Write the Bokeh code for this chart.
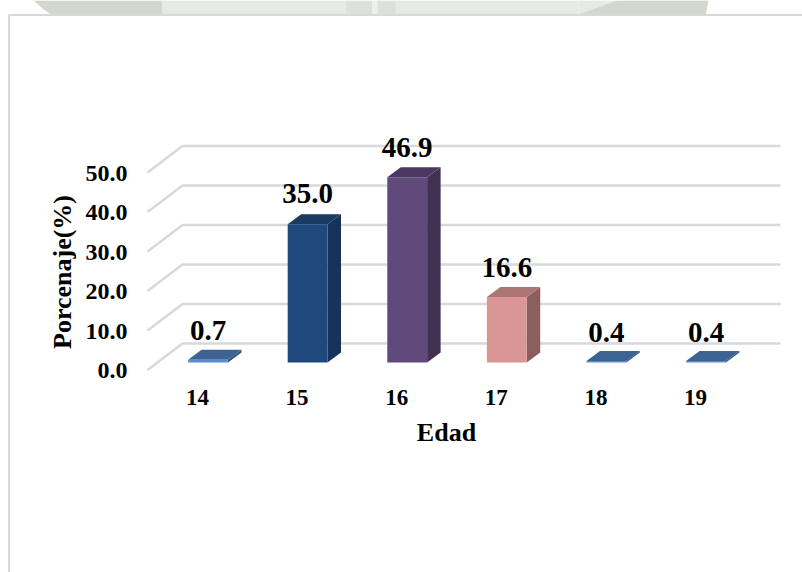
from bokeh.plotting import figure
from bokeh.models import LinearAxis, Range1d, FixedTicker
from bokeh.core.properties import value
from bokeh.embed import file_html
from bokeh.resources import INLINE

# data
ages = ["14", "15", "16", "17", "18", "19"]
percent = [0.7, 35.0, 46.9, 16.6, 0.4, 0.4]
y_ticks = [0, 10, 20, 30, 40, 50]

# styles
front = ["#5b8ccb", "#1f497d", "#604a7b", "#d99694", "#5b8ccb", "#5b8ccb"]
side = ["#2f5078", "#17335a", "#403152", "#8c5f5e", "#2f5078", "#2f5078"]
top = ["#3c6392", "#1a3a64", "#4a3862", "#ab7674", "#3c6392", "#3c6392"]
label_gap = [19, 21, 20, 19, 18.5, 18.5]

W, H = 802, 572
X0, DX = 207.5, 99.6     # page px of category 0, px per category
Y0, DY = 362.0, 3.95     # page px of value 0 at the front, px per unit
BW = 0.4
DEPTH_X, DEPTH_Y = 13.5 / DX, 10 / DY


def xd(px):
    return (px - X0) / DX


def yd(py):
    return (Y0 - py) / DY


p = figure(width=W, height=H, output_backend="svg", toolbar_location=None,
           x_axis_type=None, y_axis_type=None,
           x_range=Range1d(xd(0), xd(W)), y_range=Range1d(yd(H), yd(0)),
           min_border=0, min_border_left=0, min_border_right=0, min_border_top=0, min_border_bottom=0,
           outline_line_color=None, background_fill_color="white", border_fill_color="white")
p.grid.visible = False

FRONT_SHIFT_PX = 8
TICK_SHIFT_PX = -10.5
p.extra_y_ranges["front"] = Range1d(yd(H - FRONT_SHIFT_PX), yd(0 - FRONT_SHIFT_PX))
p.extra_x_ranges["ticks"] = Range1d(xd(0 - TICK_SHIFT_PX), xd(W - TICK_SHIFT_PX))

def band(x1, x2, color, y2=14):
    p.quad(left=[xd(x1)], right=[xd(x2)], top=[yd(0)], bottom=[yd(y2)], fill_color=color, line_color=None)

p.patch([xd(v) for v in (33, 162, 162, 50, 42)], [yd(v) for v in (0, 0, 14, 14, 8)], fill_color="#d1d8ce", line_color=None)
band(162, 345, "#e6eae4")
band(345, 372, "#dde1db")
band(372, 377, "#eef0ec")
band(377, 396, "#dde1db")
band(396, 578, "#e6eae4")
p.patch([xd(v) for v in (578, 708, 705, 578)], [yd(v) for v in (0, 0, 14, 14)], fill_color="#e6eae4", line_color=None)
p.patch([xd(v) for v in (617, 708, 705, 578)], [yd(v) for v in (0, 0, 14, 14)], fill_color="#d1d8ce", line_color=None)

p.line([xd(8.5), xd(8.5), xd(W)], [yd(H), yd(14.5), yd(14.5)], line_color="#d9d9d9", line_width=2)

for t in y_ticks:
    back_y = t + (Y0 - 343) / DY
    front_y = t - (369.5 - Y0) / DY
    p.line([xd(147), xd(182), xd(780)], [front_y, back_y, back_y], line_color="#d9d9d9", line_width=2.5)

for i, v in enumerate(percent):
    l, r = i - BW / 2, i + BW / 2
    p.patch([r, r + DEPTH_X, r + DEPTH_X, r], [0, DEPTH_Y, v + DEPTH_Y, v], fill_color=side[i], line_color=None)
    p.patch([l, r, r + DEPTH_X, l + DEPTH_X], [v, v, v + DEPTH_Y, v + DEPTH_Y], fill_color=top[i], line_color=None)
    p.quad(left=[l], right=[r], bottom=[0], top=[v], fill_color=front[i], line_color=None)
    p.text(x=[i], y=[v + DEPTH_Y + label_gap[i] / DY], text=[f"{v:.1f}"],
           text_font=value("Liberation Serif"), text_font_style="bold", text_font_size="29px",
           text_color="black", text_align="center", text_baseline="alphabetic")

yaxis = LinearAxis(y_range_name="front", ticker=FixedTicker(ticks=y_ticks), fixed_location=xd(137),
                   axis_line_color=None, major_tick_line_color=None, minor_tick_line_color=None,
                   major_label_standoff=4,
                   major_label_overrides={t: f"{t:.1f}" for t in y_ticks},
                   major_label_text_font="Liberation Serif", major_label_text_font_style="bold",
                   major_label_text_font_size="24px", major_label_text_color="black",
                   axis_label="Porcenaje(%)", axis_label_text_font="Liberation Serif",
                   axis_label_text_font_style="bold", axis_label_text_font_size="26px",
                   axis_label_text_color="black", axis_label_standoff=6,
                   bounds=(-6, 56))
p.add_layout(yaxis, "left")

xaxis = LinearAxis(x_range_name="ticks", ticker=FixedTicker(ticks=list(range(len(ages)))), fixed_location=yd(379),
                   axis_line_color=None, major_tick_line_color=None, minor_tick_line_color=None,
                   major_label_standoff=4,
                   major_label_overrides={i: a for i, a in enumerate(ages)},
                   major_label_text_font="Liberation Serif", major_label_text_font_style="bold",
                   major_label_text_font_size="23px", major_label_text_color="black",
                   axis_label="Edad", axis_label_text_font="Liberation Serif",
                   axis_label_text_font_style="bold", axis_label_text_font_size="26px",
                   axis_label_text_color="black", axis_label_standoff=10,
                   bounds=(-0.6, 5.6))
p.add_layout(xaxis, "below")

open("out.html", "w").write(file_html(p, INLINE))
